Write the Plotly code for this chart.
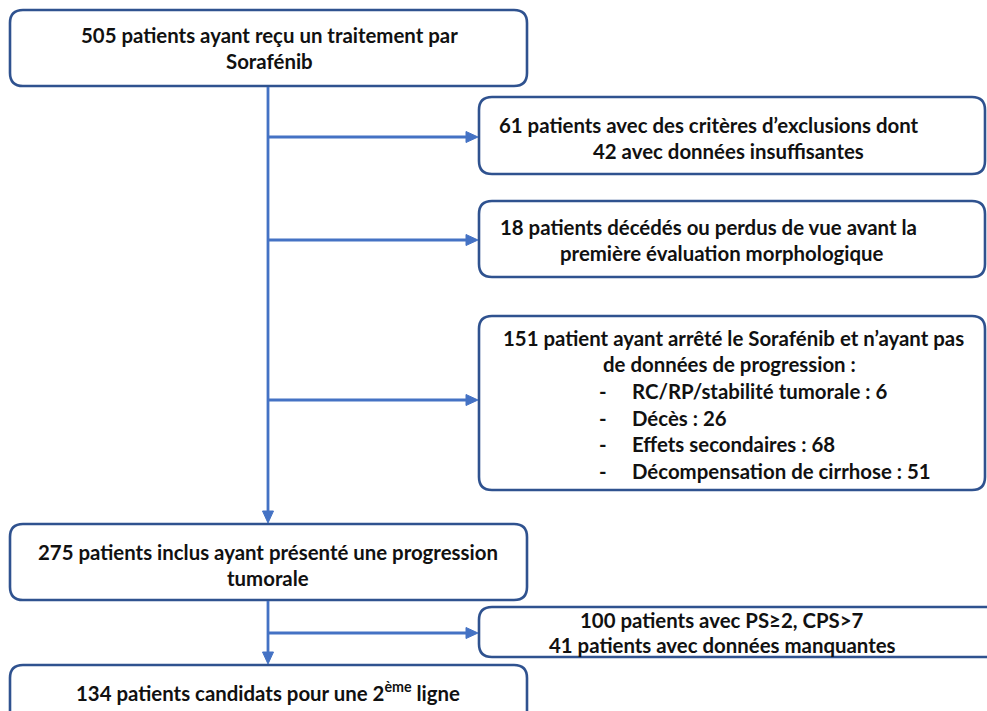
import plotly.graph_objects as go

# ---- data (texts of the flowchart) ----
box1_lines = ["505 patients ayant reçu un traitement par", "Sorafénib"]
box2_lines = ["61 patients avec des critères d’exclusions dont", "42 avec données insuffisantes"]
box3_lines = ["18 patients décédés ou perdus de vue avant la", "première évaluation morphologique"]
box4_header = ["151 patient ayant arrêté le Sorafénib et n’ayant pas", "de données de progression :"]
box4_items = ["RC/RP/stabilité tumorale : 6", "Décès : 26", "Effets secondaires : 68", "Décompensation de cirrhose : 51"]
box5_lines = ["275 patients inclus ayant présenté une progression", "tumorale"]
box6_lines = ["100 patients avec PS≥2, CPS>7", "41 patients avec données manquantes"]
box7_lines = ["134 patients candidats pour une 2<sup>ème</sup> ligne"]

# ---- layout (positions / styles) ----
W, H = 987, 711
BORDER = "#2F528F"
LINE = "#4472C4"
FONT = dict(family="Lato, 'Open Sans', sans-serif", size=20.4, color="#111111", weight="bold")

boxes = [  # x0, y0, x1, y1
    (10, 10, 527, 86),
    (479, 97, 985, 174),
    (479, 201, 985, 277),
    (479, 316, 985, 490),
    (10, 524, 527, 600),
    (479, 607, 1010, 657),
    (10, 665, 527, 730),
]

def rounded(x0, y0, x1, y1, r=13):
    return (f"M {x0+r},{y0} L {x1-r},{y0} Q {x1},{y0} {x1},{y0+r} "
            f"L {x1},{y1-r} Q {x1},{y1} {x1-r},{y1} L {x0+r},{y1} "
            f"Q {x0},{y1} {x0},{y1-r} L {x0},{y0+r} Q {x0},{y0} {x0+r},{y0} Z")

fig = go.Figure()
shapes = []
for b in boxes:
    shapes.append(dict(type="path", path=rounded(*b), xref="x", yref="y",
                       line=dict(color=BORDER, width=2.6), fillcolor="white", layer="below"))

def seg(x0, y0, x1, y1):
    shapes.append(dict(type="line", x0=x0, y0=y0, x1=x1, y1=y1, xref="x", yref="y",
                       line=dict(color=LINE, width=2.8)))

def head(x, y, direction, L=12, hw=5.5):
    if direction == "right":
        p = f"M {x},{y} L {x-L},{y-hw} L {x-L},{y+hw} Z"
    else:  # down
        p = f"M {x},{y} L {x-hw},{y-L} L {x+hw},{y-L} Z"
    shapes.append(dict(type="path", path=p, xref="x", yref="y",
                       line=dict(color=LINE, width=1), fillcolor=LINE))

# main trunk
seg(268, 87, 268, 513)
head(268, 523, "down")
for y in (137, 240, 400):
    seg(268, y, 468, y)
    head(478, y, "right")
# second trunk
seg(268, 601, 268, 654)
head(268, 664, "down")
seg(268, 633, 468, 633)
head(478, 633, "right")

annotations = []

def text(t, x, y, anchor="center"):
    annotations.append(dict(x=x, y=y, xref="x", yref="y", text=t, showarrow=False,
                            xanchor=anchor, yanchor="middle", font=FONT))

for t, y in zip(box1_lines, [35, 61]):
    text(t, 269, y)
for t, x, y in zip(box2_lines, [709, 728], [125, 151]):
    text(t, x, y)
for t, x, y in zip(box3_lines, [708, 722], [227, 253]):
    text(t, x, y)
for t, x, y in zip(box4_header, [733, 729], [338, 364]):
    text(t, x, y)
for i, t in enumerate(box4_items):
    y = 391 + i * 26.5
    text("-", 603, y)
    text(t, 630, y, anchor="left")
for t, y in zip(box5_lines, [552, 578]):
    text(t, 268, y)
for t, y in zip(box6_lines, [620, 645]):
    text(t, 722, y)
for t, y in zip(box7_lines, [691]):
    text(t, 268, y)

fig.update_layout(
    width=W, height=H,
    margin=dict(l=0, r=0, t=0, b=0),
    paper_bgcolor="white", plot_bgcolor="white",
    xaxis=dict(range=[0, W], visible=False, fixedrange=True),
    yaxis=dict(range=[H, 0], visible=False, fixedrange=True),
    shapes=shapes, annotations=annotations, showlegend=False,
)
fig.write_html("out.html", config={"displayModeBar": False},
               post_script="document.body.style.margin='0px';document.body.style.overflow='hidden';")
